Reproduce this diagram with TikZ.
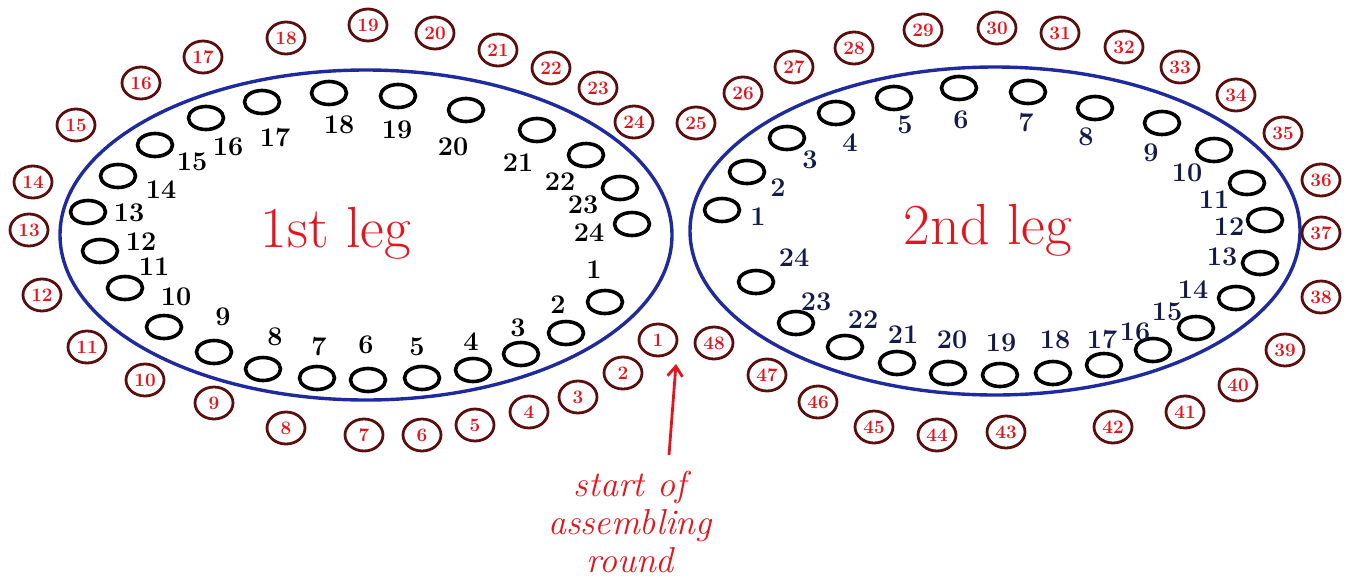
\documentclass[tikz,border=0pt]{standalone}
\usetikzlibrary{arrows.meta,positioning,shapes.geometric}
\definecolor{legblue}{HTML}{1F2A9E}
\definecolor{seatred}{HTML}{E3141C}
\definecolor{seatrim}{HTML}{5A0E0E}
\definecolor{navy}{HTML}{141A4A}
\tikzset{
  hole/.style={draw, ellipse, line width=3.6pt, minimum width=35pt, minimum height=23pt, inner sep=0pt},
  seat/.style={draw=seatrim, ellipse, line width=2.8pt, minimum width=38pt, minimum height=32pt, inner sep=0pt, text=seatred, font=\bfseries\fontsize{19}{19}\selectfont},
  legring/.style={draw=legblue, ellipse, line width=3.4pt, inner sep=0pt},
  holenum/.style={font=\bfseries\fontsize{27}{27}\selectfont},
  legname/.style={text=seatred, font=\fontsize{58}{58}\selectfont},
}
\begin{document}
\begin{tikzpicture}[x=1pt, y=-1pt]
\useasboundingbox (0,0) rectangle (1362,584);

\node[legring, minimum width=612pt, minimum height=330pt] (leg1) at (366,235) {};
\node[legring, minimum width=610pt, minimum height=328pt] (leg2) at (995,231) {};

\node[legname] (name1) at (336,233) {1st leg};
\node[legname] (name2) at (988,230) {2nd leg};

\foreach \n/\x/\y in {1/605/302, 2/566/333, 3/521/354, 4/473/370, 5/422/378, 6/368/380,
  7/317/378, 8/263/369, 9/214/352, 10/164/327, 11/125/288, 12/100/251, 13/88/212,
  14/118/176, 15/155/145, 16/206/118, 17/262/102, 18/329/93, 19/398/96, 20/466/110,
  21/537/130, 22/586/155, 23/620/188, 24/632/224}
  \node[hole] (a\n) at (\x,\y) {};

\foreach \n/\x/\y in {1/594/270, 2/558/305, 3/518/328, 4/471/342, 5/417/347, 6/366/345,
  7/319/347, 8/275/337, 9/223/317, 10/176/297, 11/154/267, 12/141/242, 13/129/213,
  14/161/190, 15/192/162, 16/228/147, 17/275/138, 18/339/125, 19/397/130, 20/453/147,
  21/518/163, 22/560/182, 23/583/205, 24/589/233}
  \node[holenum] (na\n) at (\x,\y) {\n};

\foreach \n/\x/\y in {1/722/210, 2/747/172, 3/787/138, 4/836/113, 5/894/98, 6/959/88,
  7/1028/92, 8/1095/108, 9/1162/123, 10/1214/150, 11/1247/183, 12/1265/220, 13/1260/263,
  14/1236/298, 15/1196/328, 16/1153/350, 17/1104/365, 18/1053/373, 19/1000/375,
  20/948/373, 21/897/363, 22/845/347, 23/796/323, 24/756/282}
  \node[hole] (b\n) at (\x,\y) {};

\foreach \n/\x/\y in {1/758/217, 2/778/188, 3/810/160, 4/850/143, 5/905/125, 6/961/120,
  7/1026/123, 8/1086/137, 9/1151/153, 10/1187/173, 11/1214/200, 12/1229/227, 13/1222/257,
  14/1193/290, 15/1167/312, 16/1135/332, 17/1102/340, 18/1055/340, 19/1001/343,
  20/952/340, 21/903/335, 22/863/320, 23/816/302, 24/794/258}
  \node[holenum, text=navy] (nb\n) at (\x,\y) {\n};

\foreach \n/\x/\y in {1/658/340, 2/623/373, 3/578/397, 4/529/412, 5/475/425, 6/422/435,
  7/364/435, 8/286/428, 9/214/403, 10/145/380, 11/87/347, 12/42/295, 13/29/230,
  14/33/182, 15/76/125, 16/141/83, 17/203/57, 18/286/38, 19/368/25, 20/435/33,
  21/498/50, 22/551/68, 23/598/88, 24/634/122, 25/696/123, 26/743/93, 27/794/67,
  28/854/48, 29/923/30, 30/997/28, 31/1060/33, 32/1124/47, 33/1180/67, 34/1236/95,
  35/1283/133, 36/1321/180, 37/1321/233, 38/1321/297, 39/1285/350, 40/1238/385,
  41/1185/412, 42/1113/427, 43/1006/432, 44/937/435, 45/874/427, 46/818/402,
  47/767/375, 48/714/343}
  \node[seat] (s\n) at (\x,\y) {\n};

\node[text=seatred, align=center, font=\itshape\fontsize{36}{38}\selectfont] (note) at (630,522) {start of\\assembling\\round};
\coordinate (tail) at (669,455);
\coordinate (tip) at (676,364);
\draw[seatred, line width=2.8pt, -{Straight Barb[length=10pt,width=15pt]}] (tail) -- (tip);

\end{tikzpicture}
\end{document}
